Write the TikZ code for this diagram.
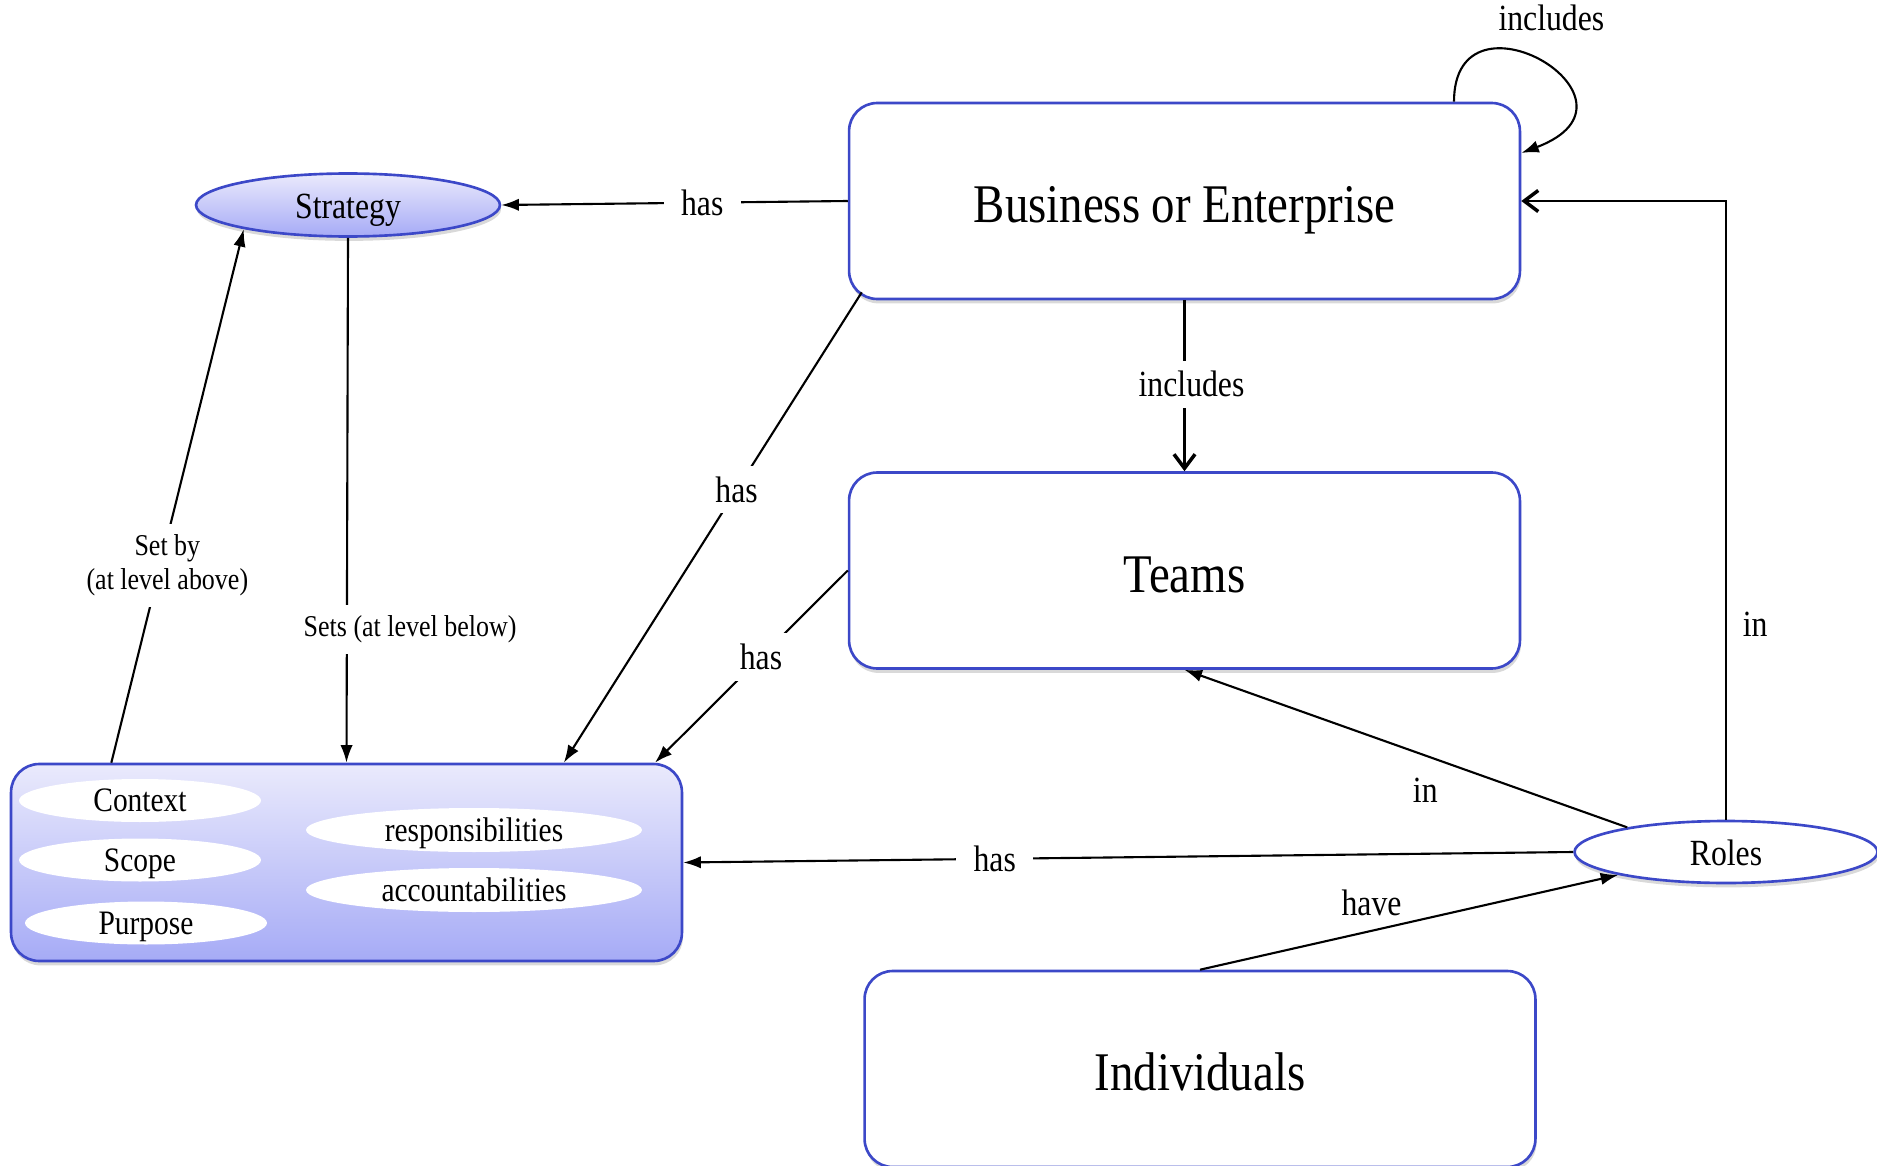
\documentclass[tikz,border=0pt]{standalone}
\usepackage{fontspec}
\setmainfont{Liberation Serif}[FakeStretch=0.86]
\usetikzlibrary{arrows.meta,shapes.geometric,shadows,calc}
\definecolor{frameblue}{RGB}{60,72,200}
\definecolor{lilactop}{RGB}{234,234,252}
\definecolor{lilacbottom}{RGB}{166,171,246}
\begin{document}
\begin{tikzpicture}[x=0.02cm,y=-0.02cm,unit node/.style={draw=frameblue, line width=1.5pt, fill=white, rounded corners=16pt, minimum width=13.42cm, minimum height=3.92cm, font=\fontsize{31}{36}\selectfont, text height=25pt, text depth=0pt, drop shadow={shadow xshift=0.6pt, shadow yshift=-2.5pt, opacity=0.3}},charter node/.style={unit node, top color=lilactop, bottom color=lilacbottom, minimum height=3.94cm},strategy node/.style={ellipse, draw=frameblue, line width=1.5pt, top color=lilactop, bottom color=lilacbottom, minimum width=6.08cm, minimum height=1.26cm, inner sep=0pt, font=\fontsize{21}{25}\selectfont, text height=14.8pt, text depth=0pt, drop shadow={shadow xshift=0.6pt, shadow yshift=-2.5pt, opacity=0.3}},role node/.style={ellipse, draw=frameblue, line width=1.5pt, fill=white, minimum width=6.06cm, minimum height=1.24cm, inner sep=0pt, font=\fontsize{21}{25}\selectfont, text height=14.8pt, text depth=0pt, drop shadow={shadow xshift=0.6pt, shadow yshift=-2.5pt, opacity=0.3}},item node/.style={ellipse, fill=white, minimum width=4.84cm, minimum height=0.86cm, inner sep=0pt, font=\fontsize{19.5}{23}\selectfont, text height=12.6pt, text depth=0pt},wide item node/.style={item node, minimum width=6.72cm, minimum height=0.88cm},link/.style={line width=1.2pt, -{Latex[length=10pt,width=7pt]}},open link/.style={line width=1.2pt, -{Straight Barb[length=8pt,width=12pt,line width=2pt]}},link label/.style={fill=white, inner xsep=10pt, inner ysep=6pt, font=\fontsize{21}{25}\selectfont},side label/.style={inner sep=0pt, font=\fontsize{21}{25}\selectfont},note label/.style={link label, font=\fontsize{17.2}{19.5}\selectfont, align=center}]%
\path[use as bounding box] (0,0) rectangle (1877,1166);%
  % Organisation units%
\node[unit node] (biz) at (1184.5,201) {Business or Enterprise};%
\node[unit node] (teams) at (1184.5,570.5) {Teams};%
\node[unit node] (indiv) at (1200,1069) {Individuals};%
  % Charter box%
\node[charter node] (scopebox) at (346.5,862.5) {};%
\node[item node] (context) at (140,800.5) {Context};%
\node[item node] (scope) at (140,860) {Scope};%
\node[item node] (purpose) at (146,923) {Purpose};%
\node[wide item node] (resp) at (474,830) {responsibilities};%
\node[wide item node] (acct) at (474,890) {accountabilities};%
  % Ovals%
\node[strategy node] (strat) at (348,205) {Strategy};%
\node[role node] (roles) at (1726,852) {Roles};%
  % Connectors%
\coordinate (bizcorner) at ($(biz.south west)+(14,-8)$);%
\coordinate (bizhas) at ($(scopebox.north west)!0.8227!(scopebox.north east)$);%
\coordinate (teamhas) at ($(scopebox.north west)!0.958!(scopebox.north east)$);%
\coordinate (loopstart) at ($(biz.north)+(269.5,0)$);%
\coordinate (loopend) at ($(biz.east)+(0,-48)$);%
\draw[link] (biz.west) -- node[link label, pos=0.42] {has} (strat.east);%
\draw[link] (bizcorner) -- node[link label, pos=0.42] {has} (bizhas);%
\draw[link] (teams.west) -- node[link label, pos=0.45] {has} (teamhas);%
\draw[link] (strat.south) -- node[note label, pos=0.746, xshift=36pt] {Sets (at level below)} (scopebox.north);%
\draw[link] (scopebox.157.5) -- node[note label, pos=0.37, xshift=4pt] {Set by\\(at level above)} (strat.193);%
\draw[open link] (biz.south) -- node[link label, pos=0.49, xshift=4pt] {includes} (teams.north);%
\draw[link] (loopstart) .. controls ($(loopstart)+(0,-123)$) and ($(loopend)+(140,-53)$) .. node[side label, pos=0.4, xshift=19pt, yshift=19pt] {includes} (loopend);%
\draw[open link] (roles.north) |- node[side label, pos=0.158, right=9pt] {in} (biz.east);%
\draw[link] (roles.166.5) -- node[side label, pos=0.456, yshift=-20pt] {in} (teams.south);%
\draw[link] (roles.west) -- node[link label, pos=0.65] {has} (scopebox.east);%
\draw[link] (indiv.north) -- node[side label, pos=0.41, yshift=16pt] {have} (roles.192);%
\end{tikzpicture}
\end{document}
